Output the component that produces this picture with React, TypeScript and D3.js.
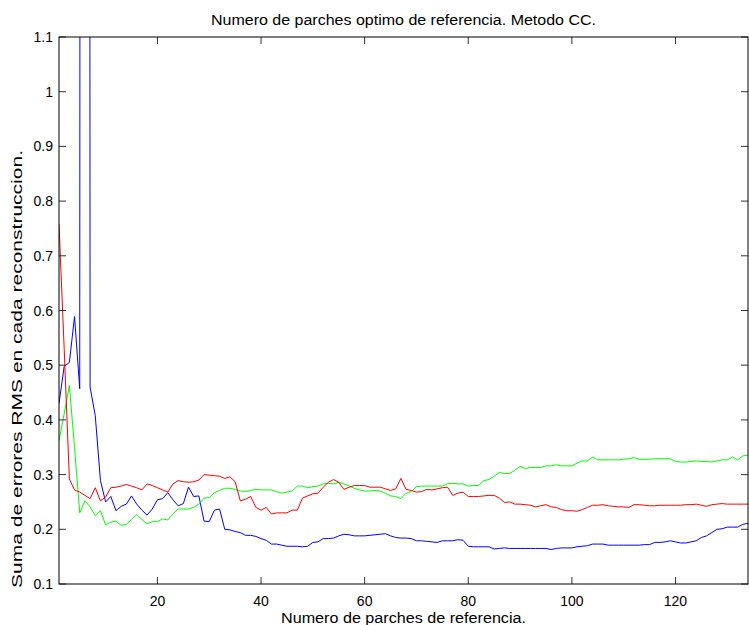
import React from "react";
import * as d3 from "d3";

const title = "Numero de parches optimo de referencia. Metodo CC.";
const xLabel = "Numero de parches de referencia.";
const yLabel = "Suma de errores RMS en cada reconstruccion.";
const xTicks = [20, 40, 60, 80, 100, 120];
const yTicks = [0.1, 0.2, 0.3, 0.4, 0.5, 0.6, 0.7, 0.8, 0.9, 1, 1.1];

const blue = [
  0.43, 0.498, 0.505, 0.589, 0.457, 20, 0.46, 0.408, 0.289, 0.25,
  0.26, 0.234, 0.242, 0.246, 0.261, 0.246, 0.235, 0.226, 0.237, 0.254,
  0.256, 0.267, 0.254, 0.243, 0.247, 0.277, 0.26, 0.261, 0.215, 0.214,
  0.235, 0.237, 0.2, 0.199, 0.196, 0.194, 0.189, 0.189, 0.187, 0.183,
  0.18, 0.173, 0.173, 0.171, 0.169, 0.169, 0.169, 0.168, 0.169, 0.176,
  0.177, 0.183, 0.183, 0.184, 0.188, 0.191, 0.19, 0.188, 0.188, 0.188,
  0.189, 0.19, 0.191, 0.192, 0.188, 0.185, 0.184, 0.184, 0.183, 0.179,
  0.179, 0.178, 0.177, 0.176, 0.179, 0.179, 0.179, 0.181, 0.18, 0.169,
  0.168, 0.168, 0.168, 0.168, 0.164, 0.165, 0.166, 0.165, 0.165, 0.165,
  0.165, 0.165, 0.165, 0.165, 0.165, 0.163, 0.165, 0.166, 0.166, 0.166,
  0.168, 0.169, 0.17, 0.173, 0.173, 0.173, 0.171, 0.171, 0.171, 0.171,
  0.171, 0.171, 0.171, 0.172, 0.172, 0.176, 0.176, 0.177, 0.179, 0.177,
  0.175, 0.175, 0.177, 0.179, 0.185, 0.188, 0.194, 0.2, 0.201, 0.204,
  0.204, 0.204, 0.209, 0.211,
];

const red = [
  0.758, 0.53, 0.292, 0.272, 0.268, 0.262, 0.256, 0.276, 0.252, 0.259,
  0.276, 0.277, 0.279, 0.282, 0.279, 0.276, 0.272, 0.283, 0.28, 0.276,
  0.272, 0.268, 0.283, 0.289, 0.287, 0.286, 0.287, 0.29, 0.3, 0.299,
  0.298, 0.297, 0.293, 0.296, 0.287, 0.252, 0.255, 0.26, 0.24, 0.235,
  0.24, 0.228, 0.23, 0.23, 0.23, 0.235, 0.235, 0.257, 0.261, 0.265,
  0.266, 0.277, 0.286, 0.291, 0.286, 0.273, 0.277, 0.28, 0.28, 0.28,
  0.277, 0.277, 0.277, 0.274, 0.271, 0.274, 0.293, 0.273, 0.271, 0.268,
  0.269, 0.273, 0.272, 0.274, 0.276, 0.277, 0.262, 0.266, 0.268, 0.26,
  0.26, 0.26, 0.261, 0.262, 0.262, 0.257, 0.249, 0.25, 0.246, 0.246,
  0.245, 0.244, 0.241, 0.243, 0.245, 0.241, 0.24, 0.236, 0.234, 0.234,
  0.233, 0.236, 0.24, 0.244, 0.244, 0.245, 0.243, 0.242, 0.241, 0.241,
  0.24, 0.245, 0.245, 0.244, 0.243, 0.243, 0.244, 0.244, 0.244, 0.244,
  0.244, 0.245, 0.245, 0.246, 0.244, 0.242, 0.245, 0.246, 0.247, 0.246,
  0.246, 0.246, 0.246, 0.246,
];

const green = [
  0.362, 0.411, 0.463, 0.35, 0.23, 0.252, 0.241, 0.225, 0.234, 0.208,
  0.213, 0.215, 0.207, 0.209, 0.218, 0.227, 0.218, 0.21, 0.214, 0.214,
  0.219, 0.217, 0.228, 0.237, 0.237, 0.237, 0.24, 0.246, 0.257, 0.258,
  0.267, 0.271, 0.275, 0.275, 0.273, 0.27, 0.269, 0.271, 0.273, 0.272,
  0.272, 0.272, 0.269, 0.266, 0.268, 0.27, 0.279, 0.279, 0.276, 0.278,
  0.279, 0.283, 0.284, 0.283, 0.286, 0.283, 0.279, 0.275, 0.272, 0.27,
  0.27, 0.271, 0.27, 0.266, 0.261, 0.26, 0.256, 0.266, 0.269, 0.278,
  0.279, 0.279, 0.279, 0.279, 0.279, 0.283, 0.284, 0.283, 0.283, 0.279,
  0.28, 0.28, 0.289, 0.291, 0.297, 0.304, 0.302, 0.302, 0.308, 0.315,
  0.311, 0.313, 0.313, 0.313, 0.316, 0.316, 0.318, 0.316, 0.316, 0.316,
  0.321, 0.325, 0.325, 0.332, 0.327, 0.327, 0.327, 0.327, 0.327, 0.328,
  0.329, 0.331, 0.328, 0.328, 0.328, 0.329, 0.329, 0.329, 0.329, 0.324,
  0.323, 0.323, 0.324, 0.325, 0.324, 0.324, 0.323, 0.325, 0.327, 0.327,
  0.332, 0.327, 0.334, 0.336,
];

const series = [
  { name: "blue", values: blue, color: "#0000ff" },
  { name: "green", values: green, color: "#00ff00" },
  { name: "red", values: red, color: "#ff0000" },
];

const W = 749;
const H = 625;
const L = 59;
const R = 748;
const T = 37;
const B = 584;
const FONT = "'Liberation Sans', Arial, Helvetica, sans-serif";

export default function App() {
  const x = d3.scaleLinear().domain([1, 134]).range([L, R]);
  const y = d3.scaleLinear().domain([0.1, 1.1]).range([B, T]);
  const line = d3
    .line<number>()
    .x((_, i) => x(i + 1))
    .y((d) => y(d));
  const tl = 7;
  return (
    <svg
      width={W}
      height={H}
      style={{ position: "absolute", left: 0, top: 0, background: "#fff" }}
      fontFamily={FONT}
    >
      <defs>
        <clipPath id="plotclip">
          <rect x={L} y={T} width={R - L} height={B - T} />
        </clipPath>
      </defs>
      <rect x={0} y={0} width={W} height={H} fill="#fff" />
      <g clipPath="url(#plotclip)">
        {series.map((s) => (
          <path
            key={s.name}
            d={line(s.values) || ""}
            fill="none"
            stroke={s.color}
            strokeWidth={1}
          />
        ))}
      </g>
      {xTicks.map((t) => (
        <g key={"xt" + t}>
          <line x1={x(t)} x2={x(t)} y1={B} y2={B - tl} stroke="#333" />
          <line x1={x(t)} x2={x(t)} y1={T} y2={T + tl} stroke="#333" />
          <text x={x(t)} y={B + 22} textAnchor="middle" fontSize={14} fill="#000">
            {t}
          </text>
        </g>
      ))}
      {yTicks.map((t) => (
        <g key={"yt" + t}>
          <line x1={L} x2={L + tl} y1={y(t)} y2={y(t)} stroke="#333" />
          <line x1={R} x2={R - tl} y1={y(t)} y2={y(t)} stroke="#333" />
          <text x={L - 6} y={y(t) + 5} textAnchor="end" fontSize={14} fill="#000">
            {String(t)}
          </text>
        </g>
      ))}
      <rect
        x={L}
        y={T}
        width={R - L}
        height={B - T}
        fill="none"
        stroke="#000"
        strokeWidth={1}
      />
      <text
        x={(L + R) / 2}
        y={25}
        textAnchor="middle"
        fontSize={14}
        fill="#000"
        textLength={385}
        lengthAdjust="spacingAndGlyphs"
      >
        {title}
      </text>
      <text
        x={(L + R) / 2}
        y={623}
        textAnchor="middle"
        fontSize={14}
        fill="#000"
        textLength={245}
        lengthAdjust="spacingAndGlyphs"
      >
        {xLabel}
      </text>
      <text
        transform={`translate(22, 369) rotate(-90)`}
        textAnchor="middle"
        fontSize={14}
        fill="#000"
        textLength={438}
        lengthAdjust="spacingAndGlyphs"
      >
        {yLabel}
      </text>
    </svg>
  );
}
